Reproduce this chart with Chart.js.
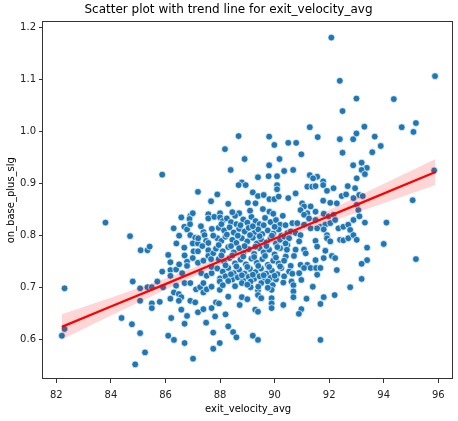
<!DOCTYPE html>
<html>
<head>
<meta charset="utf-8">
<script src="https://cdn.jsdelivr.net/npm/chart.js"></script>
<style>
  html, body { margin: 0; padding: 0; background: #fff; }
  #chart { display: block; }
</style>
</head>
<body>
<canvas id="chart" width="458" height="421" style="width:458px;height:421px"></canvas>
<script>
/* ============ Data ============ */
var exitVelocity = [
  88.68, 88.18, 88.9, 88.39, 92.08, 92.39, 95.88, 93.0, 94.37, 92.49, 91.29, 93.29, 94.66, 95.18, 95.09, 89.8, 93.0, 91.58, 92.39, 92.88, 93.67, 89.99, 90.5, 90.79, 93.89, 90.98, 92.49, 93.58, 90.18, 89.8, 92.88, 93.19, 93.38, 93.19, 90.68, 95.85,
  83.8, 84.7, 85.09,
  85.88, 87.19, 87.67, 86.58, 86.91, 87.0, 86.88, 87.57, 87.57, 87.79, 86.3, 86.69, 86.79, 86.91, 87.39, 87.43, 87.09, 87.49, 87.57, 87.0, 87.19, 86.69, 87.03, 87.19, 87.57, 85.34, 85.42, 86.1, 87.57, 87.75, 86.18, 86.79, 87.19, 87.39, 87.67, 86.18, 86.39, 85.88, 86.61, 86.79, 87.31, 87.51, 87.69, 87.69, 86.18,
  89.39, 89.78, 90.09, 88.8, 88.68, 88.94, 90.09, 90.09, 87.9, 89.2, 89.39, 89.6, 89.81, 89.99, 90.15, 89.02, 89.3, 88.3, 89.57, 89.81, 88.0, 88.7,
  88.0, 88.1, 88.25, 88.4, 88.55, 88.6, 88.85, 89.0, 89.15, 89.3, 89.45, 89.65, 89.85, 90.05, 90.2,
  87.95, 88.15, 88.35, 88.5, 88.7, 88.9, 89.05, 89.25, 89.4, 89.55, 89.75, 89.95, 90.15, 90.25,
  87.9, 88.05, 88.2, 88.45, 88.6, 88.8, 89.0, 89.2, 89.35, 89.5, 89.7, 89.85, 90.05, 90.2,
  87.85, 88.1, 88.3, 88.5, 88.7, 88.85, 89.05, 89.25, 89.45, 89.6, 89.8, 90.0, 90.2,
  87.95, 88.15, 88.35, 88.55, 88.75, 88.95, 89.15, 89.35, 89.55, 89.75, 89.95, 90.15,
  87.9, 88.1, 88.3, 88.5, 88.7, 88.9, 89.1, 89.3, 89.5, 89.7, 89.9, 90.1, 90.25,
  88.0, 88.2, 88.45, 88.65, 88.85, 89.05, 89.25, 89.45, 89.65, 89.85, 90.05,
  90.35, 91.29, 91.56, 91.41, 91.78, 91.78, 91.2, 91.38, 91.5, 92.68, 92.16, 91.92, 90.77, 92.46, 92.62, 90.5, 91.78, 92.04, 92.28, 91.01,
  91.08, 91.32, 90.95, 91.2, 91.08, 91.5, 91.8, 91.98, 92.16, 91.26, 91.5, 90.65, 90.83, 91.08, 91.32, 91.68, 91.86, 92.04, 92.22, 92.34,
  92.52, 92.7, 92.77, 91.56, 91.8, 90.47, 90.59, 90.77, 90.95, 90.35, 90.53, 91.92, 91.92, 92.4, 92.52, 92.7, 90.9, 91.5, 92.04, 90.47,
  90.77, 91.08, 91.56, 91.86, 90.41, 90.71, 91.14, 92.1, 92.22, 91.8, 91.5, 90.95, 91.2, 90.59, 91.08, 91.32, 91.52, 91.68, 92.28, 90.53,
  90.65, 90.9, 91.56,
  93.01, 93.31, 92.95, 93.1, 93.23, 92.89, 95.06, 93.01, 93.07, 93.11, 92.89, 93.31, 94.1, 92.89, 93.01, 94.0, 93.39, 95.18, 93.39, 93.19, 93.19,
  82.3, 84.8, 85.07, 85.07, 84.39, 84.77, 85.07, 85.25, 84.89, 82.3, 82.2,
  85.34, 85.5, 85.7, 85.91, 85.5, 85.5, 85.79, 86.18, 86.31, 86.39, 86.49, 86.58, 86.7, 86.91, 86.49, 86.91, 87.09, 87.12, 87.27, 87.39, 87.39, 87.51, 87.69, 86.58, 86.79, 87.19, 87.39, 87.69, 86.21, 86.7, 87.49, 87.75, 86.1, 86.31, 86.7, 87.75, 87.01,
  87.99, 88.3, 88.8, 89.12, 89.12, 89.51, 89.75, 89.93, 90.32, 87.99, 89.39, 89.39, 89.89, 89.51, 88.3, 88.8, 89.0, 87.85, 87.96, 88.72, 89.89, 89.89, 89.89, 90.32, 89.29, 89.39, 87.82, 88.2, 88.3, 88.48, 88.6, 87.99, 89.2, 89.39,
  90.62, 90.69, 90.98, 90.69, 90.69, 91.4, 91.17, 91.8, 91.68, 92.2, 92.77, 90.98, 90.89, 91.68,
  88.45, 89.1, 89.95, 90.3, 88.05, 88.75, 89.2, 89.6, 90.0, 90.4, 88.25, 88.65, 89.1, 89.45, 89.9, 90.4, 87.95, 88.4, 88.9, 89.3, 89.7, 90.1, 90.45,
  88.05, 88.45, 88.85, 89.25, 89.65, 90.05, 90.35, 88.2, 88.6, 89.0, 89.4, 89.8, 90.2, 88.4, 88.8, 89.2, 89.6, 90.0, 90.35, 88.1, 88.55, 89.0, 89.4, 89.75,
  86.9, 87.3, 87.7, 86.5, 87.2, 87.75, 86.4, 87.35, 86.7, 87.0, 86.5
];
var onBasePlusSlg = [
  0.991, 0.966, 0.947, 0.926, 1.18, 1.097, 1.106, 1.063, 1.062, 1.039, 1.008, 1.009, 1.008, 1.016, 0.999, 0.99, 0.996, 0.989, 0.985, 0.985, 0.99, 0.974, 0.978, 0.978, 0.972, 0.956, 0.959, 0.96, 0.947, 0.935, 0.935, 0.94, 0.93, 0.926, 0.926, 0.925,
  0.825, 0.799, 0.772,
  0.917, 0.884, 0.866, 0.835, 0.838, 0.843, 0.832, 0.841, 0.833, 0.836, 0.814, 0.817, 0.812, 0.801, 0.807, 0.801, 0.796, 0.79, 0.786, 0.785, 0.785, 0.777, 0.77, 0.77, 0.772, 0.772, 0.779, 0.763, 0.761, 0.766, 0.749, 0.75, 0.748, 0.752, 0.755, 0.734, 0.735, 0.731, 0.728, 0.742, 0.728, 0.723, 0.728, 0.74, 0.723,
  0.912, 0.914, 0.914, 0.902, 0.897, 0.897, 0.897, 0.889, 0.879, 0.883, 0.876, 0.878, 0.87, 0.87, 0.875, 0.863, 0.862, 0.861, 0.851, 0.846, 0.843, 0.843,
  0.835, 0.828, 0.833, 0.826, 0.838, 0.822, 0.831, 0.825, 0.836, 0.828, 0.822, 0.834, 0.826, 0.83, 0.821,
  0.815, 0.81, 0.816, 0.806, 0.813, 0.808, 0.815, 0.805, 0.812, 0.803, 0.81, 0.804, 0.812, 0.8,
  0.795, 0.79, 0.798, 0.792, 0.786, 0.795, 0.789, 0.796, 0.785, 0.793, 0.787, 0.795, 0.785, 0.792,
  0.775, 0.77, 0.778, 0.768, 0.776, 0.766, 0.774, 0.765, 0.776, 0.768, 0.773, 0.764, 0.776,
  0.755, 0.75, 0.757, 0.747, 0.754, 0.745, 0.756, 0.748, 0.755, 0.744, 0.752, 0.747,
  0.737, 0.731, 0.738, 0.728, 0.735, 0.727, 0.736, 0.73, 0.737, 0.727, 0.733, 0.726, 0.738,
  0.718, 0.722, 0.716, 0.72, 0.715, 0.721, 0.717, 0.722, 0.715, 0.719, 0.716,
  0.924, 0.916, 0.913, 0.91, 0.904, 0.897, 0.894, 0.894, 0.895, 0.895, 0.891, 0.886, 0.881, 0.876, 0.879, 0.872, 0.867, 0.863, 0.862, 0.862,
  0.856, 0.856, 0.849, 0.843, 0.84, 0.846, 0.842, 0.837, 0.84, 0.833, 0.83, 0.824, 0.824, 0.821, 0.814, 0.817, 0.821, 0.824, 0.83, 0.814,
  0.817, 0.821, 0.811, 0.814, 0.812, 0.805, 0.808, 0.805, 0.801, 0.798, 0.795, 0.801, 0.795, 0.792, 0.791, 0.795, 0.789, 0.79, 0.789, 0.782,
  0.773, 0.773, 0.779, 0.771, 0.76, 0.761, 0.766, 0.761, 0.757, 0.757, 0.753, 0.744, 0.744, 0.742, 0.738, 0.738, 0.738, 0.738, 0.734, 0.731,
  0.727, 0.728, 0.725,
  0.91, 0.918, 0.891, 0.878, 0.876, 0.872, 0.868, 0.859, 0.849, 0.837, 0.83, 0.825, 0.825, 0.801, 0.792, 0.784, 0.777, 0.755, 0.753, 0.746, 0.717,
  0.699, 0.712, 0.699, 0.675, 0.642, 0.63, 0.613, 0.576, 0.553, 0.621, 0.608,
  0.701, 0.701, 0.712, 0.701, 0.67, 0.661, 0.673, 0.679, 0.691, 0.704, 0.688, 0.682, 0.709, 0.709, 0.675, 0.675, 0.672, 0.697, 0.701, 0.709, 0.691, 0.697, 0.702, 0.658, 0.646, 0.653, 0.659, 0.661, 0.642, 0.631, 0.633, 0.614, 0.608, 0.6, 0.594, 0.583, 0.564,
  0.712, 0.713, 0.709, 0.712, 0.701, 0.709, 0.712, 0.705, 0.71, 0.696, 0.695, 0.686, 0.696, 0.68, 0.683, 0.682, 0.678, 0.672, 0.67, 0.667, 0.68, 0.67, 0.661, 0.667, 0.658, 0.654, 0.645, 0.649, 0.626, 0.615, 0.605, 0.594, 0.608, 0.6,
  0.712, 0.705, 0.715, 0.693, 0.682, 0.702, 0.679, 0.682, 0.669, 0.686, 0.701, 0.659, 0.65, 0.6,
  0.845, 0.848, 0.842, 0.838, 0.822, 0.82, 0.818, 0.82, 0.817, 0.82, 0.802, 0.8, 0.801, 0.799, 0.8, 0.785, 0.782, 0.78, 0.78, 0.779, 0.78, 0.778, 0.773,
  0.762, 0.762, 0.76, 0.759, 0.761, 0.758, 0.752, 0.743, 0.741, 0.74, 0.742, 0.74, 0.741, 0.726, 0.724, 0.725, 0.724, 0.723, 0.722, 0.705, 0.703, 0.706, 0.702, 0.7,
  0.822, 0.818, 0.813, 0.8, 0.795, 0.8, 0.785, 0.78, 0.762, 0.757, 0.745
];

/* regression line and its confidence band, as drawn in the reference */
var trendX = [82.2, 84, 86, 88, 89.5, 91, 93, 95.9];
var trendY = [0.625, 0.664, 0.707, 0.751, 0.783, 0.816, 0.859, 0.922];
var ciLower = [0.601, 0.647, 0.696, 0.744, 0.777, 0.808, 0.844, 0.897];
var ciUpper = [0.649, 0.681, 0.718, 0.758, 0.789, 0.824, 0.874, 0.947];

var xTicks = [82, 84, 86, 88, 90, 92, 94, 96];
var yTicks = [0.6, 0.7, 0.8, 0.9, 1.0, 1.1, 1.2];

function toPoints(xs, ys) {
  return xs.map(function (x, i) { return { x: x, y: ys[i] }; });
}

/* draws the four spines like matplotlib */
var framePlugin = {
  id: 'frame',
  afterDraw: function (chart) {
    var a = chart.chartArea, ctx = chart.ctx;
    ctx.save();
    ctx.strokeStyle = '#333';
    ctx.lineWidth = 1;
    ctx.strokeRect(Math.round(a.left) - 0.5, Math.round(a.top) + 0.5, Math.round(a.right - a.left), Math.round(a.bottom - a.top) - 1);
    ctx.restore();
  }
};

var FONT = "'DejaVu Sans', sans-serif";

new Chart(document.getElementById('chart'), {
  type: 'scatter',
  data: {
    datasets: [{
      label: 'trend',
      data: toPoints(trendX, trendY),
      showLine: true, borderColor: '#ff0000', borderWidth: 2.2, pointRadius: 0, fill: false
    }, {
      label: 'ci upper',
      data: toPoints(trendX, ciUpper),
      showLine: true, borderColor: 'transparent', pointRadius: 0,
      fill: '+1', backgroundColor: 'rgba(255,0,0,0.16)'
    }, {
      label: 'ci lower',
      data: toPoints(trendX, ciLower),
      showLine: true, borderColor: 'transparent', pointRadius: 0, fill: false
    }, {
      label: 'players',
      data: toPoints(exitVelocity, onBasePlusSlg),
      pointRadius: 3.4, backgroundColor: '#1f77b4', borderColor: '#ffffff', borderWidth: 0.7
    }]
  },
  options: {
    responsive: false,
    animation: false,
    devicePixelRatio: 1,
    layout: { padding: { left: 0, right: 1, top: 0, bottom: 0 } },
    plugins: {
      legend: { display: false },
      tooltip: { enabled: false },
      title: {
        display: true,
        text: 'Scatter plot with trend line for exit_velocity_avg',
        color: '#000',
        font: { family: FONT, size: 12, weight: 'normal' },
        padding: { top: 3, bottom: 4 }
      }
    },
    scales: {
      x: {
        type: 'linear', min: 81.51, max: 96.55,
        afterBuildTicks: function (s) { s.ticks = xTicks.map(function (v) { return { value: v }; }); },
        afterFit: function (s) { s.height = 42; },
        border: { display: false },
        grid: { drawOnChartArea: false, drawTicks: true, tickLength: 4, color: '#333' },
        ticks: { color: '#222', padding: 6, maxRotation: 0, font: { family: FONT, size: 10 } },
        title: { display: true, text: 'exit_velocity_avg', color: '#000', font: { family: FONT, size: 10 }, padding: { top: 0, bottom: 6 } }
      },
      y: {
        type: 'linear', min: 0.525, max: 1.211,
        afterBuildTicks: function (s) { s.ticks = yTicks.map(function (v) { return { value: v }; }); },
        afterFit: function (s) { s.width = 43; },
        border: { display: false },
        grid: { drawOnChartArea: false, drawTicks: true, tickLength: 4, color: '#333' },
        ticks: { color: '#222', padding: 3, font: { family: FONT, size: 10 }, callback: function (v) { return v.toFixed(1); } },
        title: { display: true, text: 'on_base_plus_slg', color: '#000', font: { family: FONT, size: 10 }, padding: { top: 5, bottom: 0 } }
      }
    }
  },
  plugins: [framePlugin]
});
</script>
</body>
</html>
